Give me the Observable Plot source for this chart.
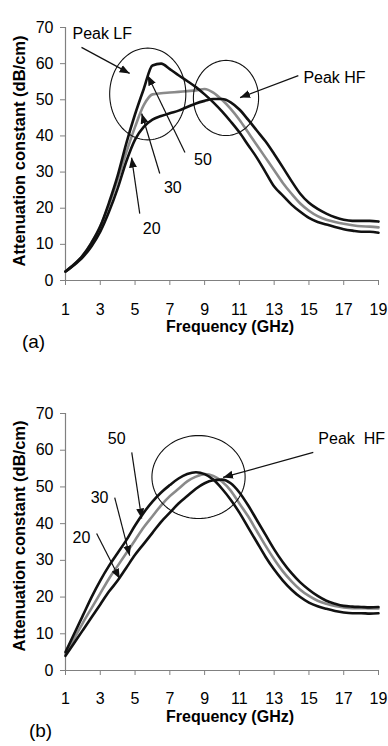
<!DOCTYPE html>
<html><head><meta charset="utf-8">
<script src="https://cdn.jsdelivr.net/npm/d3@7"></script>
<script src="https://cdn.jsdelivr.net/npm/@observablehq/plot@0.6"></script>
<style>
body{margin:0;background:#fff;}
#chart svg{display:block;}
g[aria-label="ytitle"] text{letter-spacing:2.3px;}
</style></head><body><div id="chart"></div>
<script>
// Frequency grid (GHz)
const freq = [1,1.5,2,2.5,3,3.5,4,4.5,5,5.5,6,6.5,7,7.5,8,8.5,9,9.5,10,10.5,11,11.5,12,12.5,13,13.5,14,14.5,15,15.5,16,16.5,17,17.5,18,18.5,19];
// Panel (a) attenuation constant (dB/cm)
const a50 = [2.5,4.5,7,10.5,15,21.5,29,38,46,53,59.5,60,58.5,56.8,55.2,53.5,51.5,49.3,46.8,44,41,37.5,34,30,26,23.5,21,19,17.3,16.2,15.5,14.8,14.2,13.8,13.5,13.5,13.2];
const a30 = [2.5,4.5,7,10.5,15,21,28,35.5,42.5,48.5,51.5,51.8,52,52.2,52.4,52.6,53,52,50,47.5,44.5,41,37.5,34,30.5,27,24,21.3,19.3,17.8,16.8,16.2,15.7,15.3,15,14.9,14.7];
const a20 = [2.5,4.3,6.5,9.5,13.5,19,25.5,33,39,42.5,44.5,45.5,46.3,47,48,49,49.7,50.2,50.2,49.3,47.3,44.5,41.5,38.5,35,31.3,27.5,24,21.5,19.8,18.5,17.5,16.8,16.5,16.5,16.5,16.3];
// Panel (b)
const b50 = [5,10,15,20,24.5,28.5,32,35.5,39.5,43,46,48.5,50.5,52.3,53.5,54,53.5,52,49.5,46.5,43,39,35,31,27.5,24.5,22,20,18.5,17.5,16.8,16.2,15.8,15.6,15.6,15.5,15.6];
const b30 = [4.5,8.7,13,17,21,25,28.5,32,35.5,39,42,45,47.5,49.5,51.5,52.8,53.5,53,51.5,49,45.5,42,38,34,30.3,27,24.3,22,20.3,19,18.2,17.6,17.2,17,17,16.9,16.9];
const b20 = [4,7.5,11,14.5,18,21.5,24.5,28,31.5,34.5,37.5,40.5,43,45.5,47.5,49.5,51,51.8,52,51,48.5,45,41,37,33,29.5,26.5,24,22,20.3,19,18.2,17.6,17.4,17.3,17.2,17.3];
// Ticks
const xTicks = [1,3,5,7,9,11,13,15,17,19];
const yTicks = [0,10,20,30,40,50,60,70];
// Annotations panel (a)
const aPeakLabels = ["Peak LF","Peak HF"];
const aPeakF = [1.4,14.68];
const aPeakV = [68.3,56.2];
const aNumLabels = ["50","30","20"];
const aNumF = [8.9,7.17,5.96];
const aNumV = [33.5,25.5,14.4];
const aArrowF1 = [1.92,14.39,7.87,6.42,5.27];
const aArrowV1 = [64.5,56.7,35.4,29.6,18.5];
const aArrowF2 = [4.69,11.04,5.73,5.38,4.8];
const aArrowV2 = [57.3,50.6,56.7,46.2,34];
const aCircF = [5.73,10.23];
const aCircV = [51.6,50.5];
const aCircRF = [2.19,1.875];
const aCircRV = [12.7,10.4];
// Annotations panel (b)
const bPeakLabels = ["Peak  HF"];
const bPeakF = [15.54];
const bPeakV = [63.2];
const bNumLabels = ["50","30","20"];
const bNumF = [3.94,2.96,1.92];
const bNumV = [63.2,46.9,36];
const bArrowF1 = [15.25,4.81,3.83,2.79];
const bArrowV1 = [59.4,59.4,47.1,37.3];
const bArrowF2 = [10.06,5.38,4.69,4.12];
const bArrowV2 = [52.6,41.4,31.3,25];
const bCircF = [8.65];
const bCircV = [52.7];
const bCircRF = [2.68];
const bCircRV = [11.3];

function ellipse(cf, cv, rf, rv, id) {
  return d3.range(0, 97).map(i => {
    const t = i / 96 * 2 * Math.PI;
    return {f: cf + rf * Math.cos(t), v: cv + rv * Math.sin(t), id};
  });
}

function panel(o) {
  const rows = s => freq.map((f, i) => ({f, v: s[i]}));
  const ells = o.cF.flatMap((f, i) => ellipse(f, o.cV[i], o.cRF[i], o.cRV[i], i));
  const arrows = o.arF1.map((f, i) => ({x1: f, y1: o.arV1[i], x2: o.arF2[i], y2: o.arV2[i]}));
  const peaks = o.pL.map((t, i) => ({t, f: o.pF[i], v: o.pV[i]}));
  const nums = o.nL.map((t, i) => ({t, f: o.nF[i], v: o.nV[i]}));
  const svg = Plot.plot({
    width: 388, height: o.height,
    marginLeft: 65, marginRight: 10, marginTop: o.mt, marginBottom: o.mb,
    x: {domain: [1, 19]}, y: {domain: [0, 70]},
    style: {fontFamily: "'Liberation Sans', Arial, sans-serif", fontSize: "16px", color: "#000", background: "#fff", overflow: "visible"},
    marks: [
      Plot.axisX({ticks: xTicks, tickSize: 5, tickPadding: o.tp, stroke: "#808080", fontSize: 16, label: null, tickFormat: d => String(d)}),
      Plot.axisY({ticks: yTicks, tickSize: 5, tickPadding: 7, stroke: "#808080", fontSize: 16, label: null, tickFormat: d => String(d)}),
      Plot.ruleY([0], {stroke: "#808080", strokeWidth: 1.2}),
      Plot.ruleX([1], {stroke: "#808080", strokeWidth: 1.2}),
      Plot.line(rows(o.s30), {x: "f", y: "v", stroke: "#8a8a8a", strokeWidth: 2.6, curve: "monotone-x"}),
      Plot.line(rows(o.s20), {x: "f", y: "v", stroke: "#111", strokeWidth: 2.6, curve: "monotone-x"}),
      Plot.line(rows(o.s50), {x: "f", y: "v", stroke: "#111", strokeWidth: 2.6, curve: "monotone-x"}),
      Plot.line(ells, {x: "f", y: "v", z: "id", stroke: "#111", strokeWidth: 1.1}),
      Plot.link(arrows, {x1: "x1", y1: "y1", x2: "x2", y2: "y2", stroke: "#111", strokeWidth: 1.2, markerEnd: "arrow"}),
      Plot.text(peaks, {x: "f", y: "v", text: "t", textAnchor: "start", fontSize: 16}),
      Plot.text(nums, {x: "f", y: "v", text: "t", textAnchor: "middle", fontSize: 16}),
      Plot.text(["Frequency (GHz)"], {frameAnchor: "bottom", dx: 8, dy: o.xtDy, fontWeight: "bold", fontSize: 16}),
      Plot.text([o.tag], {frameAnchor: "bottom-left", dx: o.tagDx, dy: o.tagDy, fontSize: 19, textAnchor: "middle"}),
      Plot.text(["Attenuation constant (dB/cm)"], {frameAnchor: "left", textAnchor: "middle", rotate: -90, dx: -46, dy: o.ytDy, fontWeight: "bold", fontSize: 16.5, ariaLabel: "ytitle"})
    ]
  });
  d3.select(svg).selectAll("marker")
    .attr("viewBox", "-10 -5 10 10")
    .attr("markerUnits", "userSpaceOnUse")
    .attr("markerWidth", 10).attr("markerHeight", 10)
    .attr("fill", "#111").attr("stroke", "none")
    .selectAll("path").attr("d", "M-10,-4L0,0L-10,4Z");
  return svg;
}

const chart = document.getElementById("chart");
chart.append(panel({
  height: 370, mt: 27, mb: 90,
  s20: a20, s30: a30, s50: a50,
  cF: aCircF, cV: aCircV, cRF: aCircRF, cRV: aCircRV,
  arF1: aArrowF1, arV1: aArrowV1, arF2: aArrowF2, arV2: aArrowV2,
  pL: aPeakLabels, pF: aPeakF, pV: aPeakV,
  nL: aNumLabels, nF: aNumF, nV: aNumV,
  tp: 18, xtDy: 51, tag: "(a)", tagDx: -32, tagDy: 67, ytDy: -3
}));
chart.append(panel({
  height: 376, mt: 43, mb: 76,
  s20: b20, s30: b30, s50: b50,
  cF: bCircF, cV: bCircV, cRF: bCircRF, cRV: bCircRV,
  arF1: bArrowF1, arV1: bArrowV1, arF2: bArrowF2, arV2: bArrowV2,
  pL: bPeakLabels, pF: bPeakF, pV: bPeakV,
  nL: bNumLabels, nF: bNumF, nV: bNumV,
  tp: 17, xtDy: 51, tag: "(b)", tagDx: -25, tagDy: 66, ytDy: -6
}));
</script></body></html>
